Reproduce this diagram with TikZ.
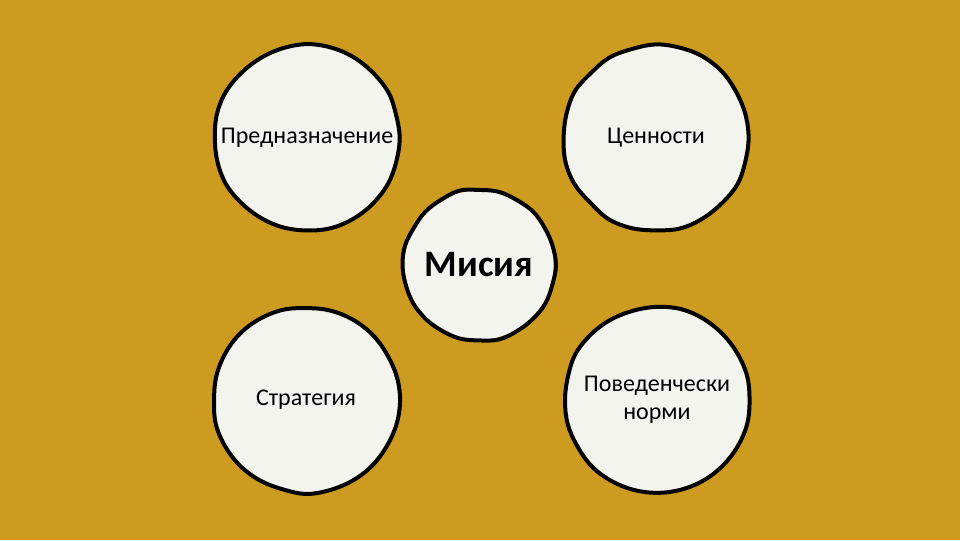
\documentclass[tikz,border=0pt]{standalone}
\usepackage{fontspec}
\setmainfont{Carlito}
\definecolor{gold}{HTML}{CC9B1F}
\definecolor{paper}{HTML}{F4F4EF}
\tikzset{bubble/.style={circle,fill=paper,minimum size=138pt,inner sep=0pt,
  align=center,font=\fontsize{18}{21}\selectfont},
  outline/.style={draw=black,line width=3pt,line join=round}}
\begin{document}
\begin{tikzpicture}[x=0.75pt,y=-0.75pt]
\pgfmathsetseed{11}

\fill[gold] (0,0) rectangle (960,540);
\useasboundingbox (0,0) rectangle (960,540);

\node[bubble] (purpose) at (307,138) {Предназначение};
\node[bubble] (values) at (656,138) {Ценности};
\node[bubble] (strategy) at (306,400) {Стратегия};
\node[bubble] (norms) at (657,400) {Поведенчески\\норми};
\node[bubble,minimum size=112pt,font=\fontsize{28}{32}\selectfont\bfseries] (mission) at (479,265) {Мисия};

% hand drawn rims
\foreach \n/\rad in {purpose/93,values/93,strategy/93,norms/93,mission/76}
  \draw[outline] plot[smooth cycle,tension=0.6,domain=0:345,samples=24]
    ([shift={(\n.center)}]\x:{\rad+1.1*(2*rnd-1)});
\end{tikzpicture}
\end{document}
